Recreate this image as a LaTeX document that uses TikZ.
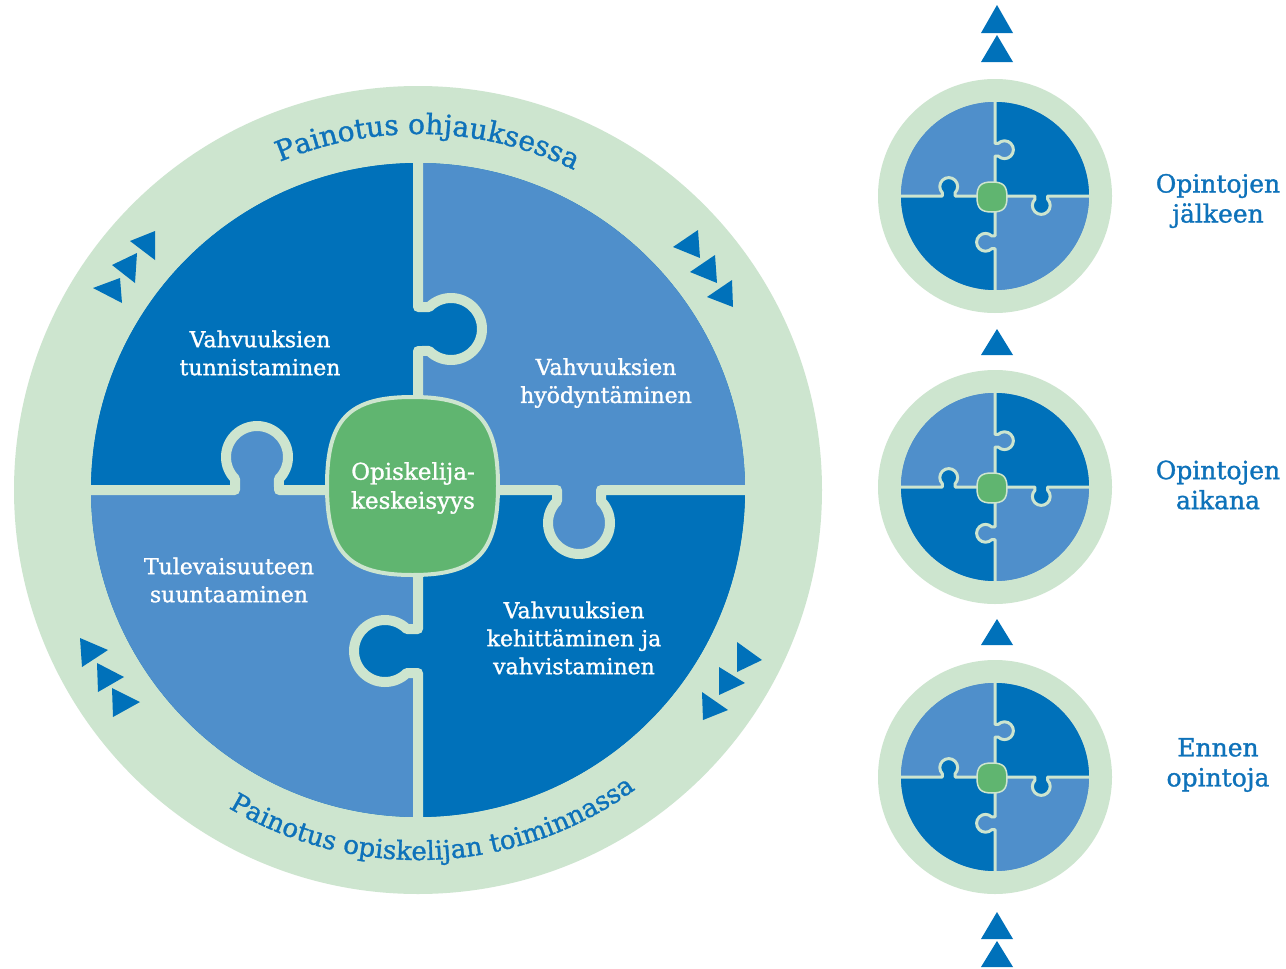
\documentclass[tikz,border=0pt]{standalone}
\usepackage{fontspec}
\setmainfont{DejaVu Serif}[FakeBold=1.2]
\usetikzlibrary{decorations.text}
\definecolor{ringg}{HTML}{CDE5CF}
\definecolor{darkb}{HTML}{0071BA}
\definecolor{lightb}{HTML}{4F8FCB}
\definecolor{centerg}{HTML}{60B570}
\definecolor{textb}{HTML}{0E72BA}

% #1 centre, #2 scale, #3 gap line width, #4 colour A (top-left), #5 colour B (top-right)
\newcommand{\jigsaw}[5]{%
 \begin{scope}[shift={#1}, scale=#2]
  \fill[#4] (0,0) circle[radius=327];
  \begin{scope}
   \clip (0,0) circle[radius=327];
   \foreach \k/\c in {0/#4,1/#5,2/#4,3/#5}{\fill[\c, rotate=-90*\k] (-330,0) rectangle (0,330);}
  \end{scope}
  \foreach \k/\c in {0/#4,1/#5,2/#4,3/#5}{%
   \fill[\c, rotate=-90*\k] (0,183) -- (11.15,183) arc[start angle=134.8, end angle=-134.8, radius=31] -- (0,139) -- cycle;}
  \foreach \k in {0,1,2,3}{%
   \draw[gapline, line width=#3, rotate=-90*\k] (0,335) -- (0,183) -- (11.15,183) arc[start angle=134.8, end angle=-134.8, radius=31] -- (0,139) -- (0,0);}
 \end{scope}}

% #1 centre, #2 half width, #3 half height, #4 outline width
\newcommand{\hubshape}[4]{%
 \begin{scope}[shift={#1}, xscale=#2, yscale=#3]
  \filldraw[hub, line width=#4] (1,0) .. controls (1,0.75) and (0.75,1) .. (0,1)
   .. controls (-0.75,1) and (-1,0.75) .. (-1,0)
   .. controls (-1,-0.75) and (-0.75,-1) .. (0,-1)
   .. controls (0.75,-1) and (1,-0.75) .. (1,0) -- cycle;
 \end{scope}}

\begin{document}
\begin{tikzpicture}[x=1pt,y=1pt,
  gapline/.style={draw=ringg, line join=round},
  hub/.style={fill=centerg, draw=ringg},
  wlabel/.style={text=white, align=center, font=\fontsize{22}{28}\selectfont, inner sep=0pt},
  rlabel/.style={text=textb, align=center, font=\fontsize{25}{30}\selectfont, inner sep=0pt},
  tri/.style={fill=darkb}]
\useasboundingbox (0,0) rectangle (1286,-969);
\fill[white] (0,0) rectangle (1286,-969);

% ---------- big circle ----------
\fill[ringg] (418,-490) circle[radius=404];
\jigsaw{(418,-490)}{1}{10}{darkb}{lightb}
\hubshape{(412.5,-486)}{85.5}{89}{4}

\node[wlabel] (tunn) at (260,-353) {Vahvuuksien\\tunnistaminen};
\node[wlabel] (hyod) at (606,-383) {Vahvuuksien\\hyödyntäminen};
\node[wlabel] (tule) at (229,-580) {Tulevaisuuteen\\suuntaaminen};
\node[wlabel] (kehi) at (574,-638) {Vahvuuksien\\kehittäminen ja\\vahvistaminen};
\node[wlabel, font=\fontsize{23}{29}\selectfont] (kesk) at (413,-488) {Opiskelija-\\keskeisyys};

% curved texts
\path[decorate, decoration={text along path, text align=center, text color=textb,
  text={|\fontsize{28}{30}\selectfont|Painotus ohjauksessa}}]
  (418,-490) ++(148.4:356) arc[start angle=148.4, end angle=28.4, radius=356];
\path[decorate, decoration={text along path, text align=center, text color=textb,
  text={|\fontsize{26}{30}\selectfont|Painotus opiskelijan toiminnassa}}]
  (418,-490) ++(212.6:370) arc[start angle=212.6, end angle=332.6, radius=370];

% triangle groups round the big circle
\fill[tri] (93,-288) -- (120,-278) -- (122,-303) -- cycle;
\fill[tri] (112,-265) -- (137,-253) -- (135,-283) -- cycle;
\fill[tri] (130,-241) -- (155,-231) -- (155,-260) -- cycle;

\fill[tri] (673,-247) -- (698,-230) -- (700,-258) -- cycle;
\fill[tri] (690,-272) -- (715,-255) -- (717,-283) -- cycle;
\fill[tri] (707,-297) -- (732,-280) -- (733,-307) -- cycle;

\fill[tri] (80,-638) -- (82,-667) -- (108,-650) -- cycle;
\fill[tri] (97,-663) -- (98,-692) -- (124,-677) -- cycle;
\fill[tri] (112,-688) -- (113,-717) -- (140,-702) -- cycle;

\fill[tri] (737,-642) -- (737,-672) -- (762,-660) -- cycle;
\fill[tri] (719,-667) -- (719,-695) -- (745,-683) -- cycle;
\fill[tri] (702,-692) -- (703,-720) -- (728,-710) -- cycle;

% ---------- small circles ----------
\foreach \cy in {196,487,777}{
  \fill[ringg] (995,-\cy) circle[radius=117];
  \jigsaw{(995,-\cy)}{0.2875}{3}{lightb}{darkb}
  \hubshape{(992,-\cy-1)}{15}{15}{1.5}
}

\node[rlabel] (jalk) at (1218,-201) {Opintojen\\jälkeen};
\node[rlabel] (aika) at (1218,-485) {Opintojen\\aikana};
\node[rlabel] (enne) at (1218,-765) {Ennen\\opintoja};

% right column triangles
\fill[tri] (997,-5) -- (981,-33) -- (1013,-33) -- cycle;
\fill[tri] (997,-35) -- (981,-62) -- (1013,-62) -- cycle;
\fill[tri] (997,-329) -- (981,-355) -- (1013,-355) -- cycle;
\fill[tri] (997,-619) -- (981,-645) -- (1013,-645) -- cycle;
\fill[tri] (997,-912) -- (981,-939) -- (1013,-939) -- cycle;
\fill[tri] (997,-941) -- (981,-967) -- (1013,-967) -- cycle;
\end{tikzpicture}
\end{document}
